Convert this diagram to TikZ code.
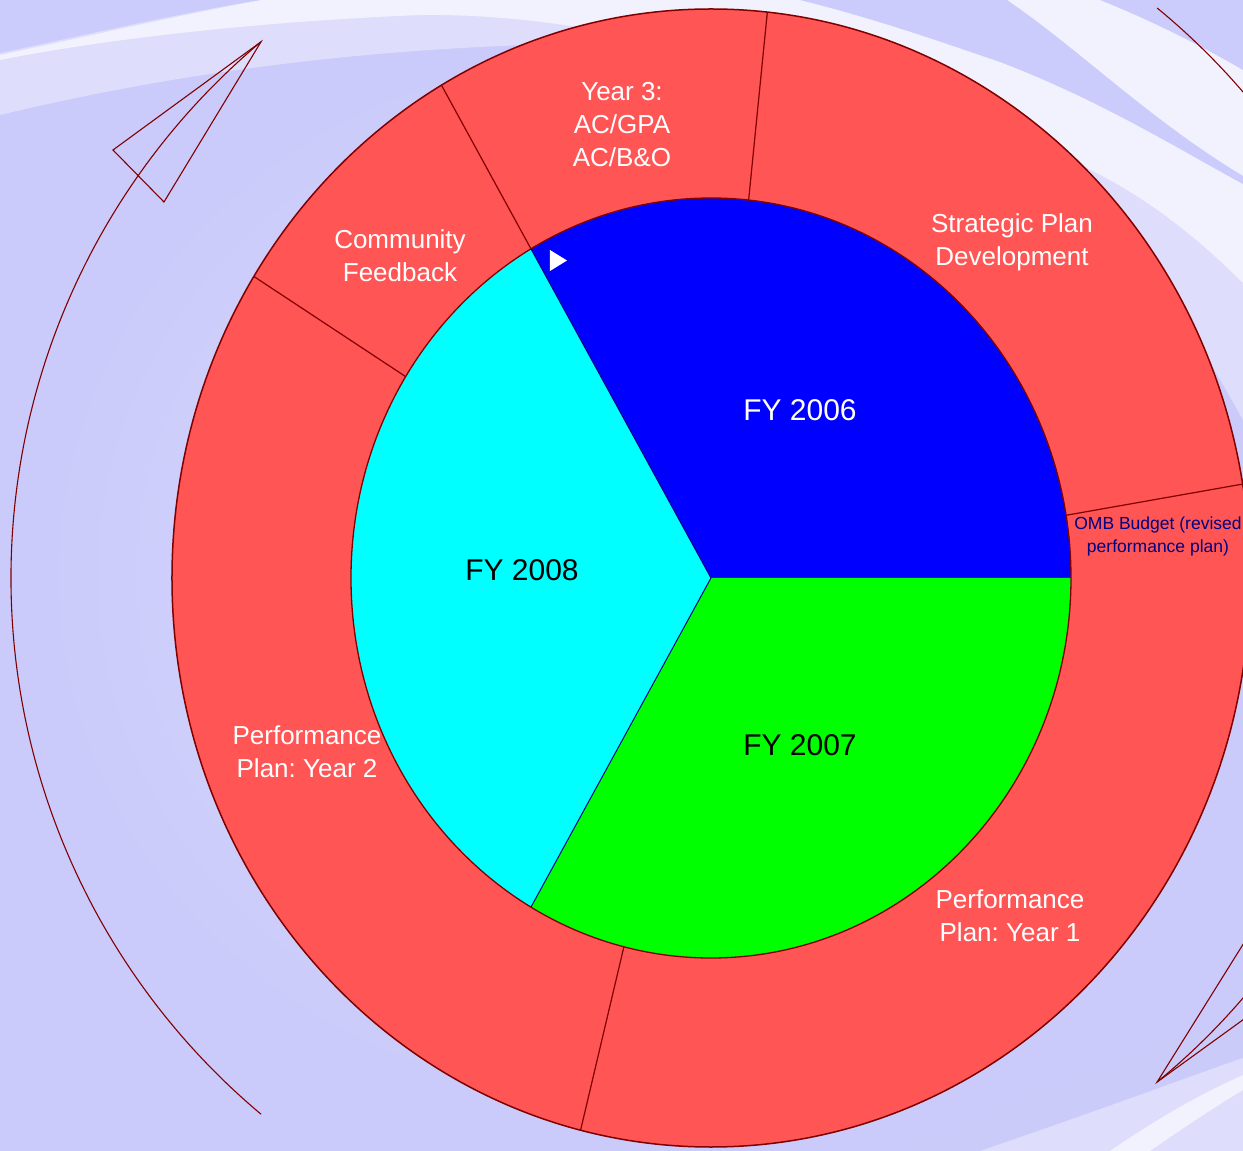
\documentclass[tikz,border=0pt]{standalone}
\usepackage{fontspec}
\setmainfont{Liberation Sans}
\frenchspacing
\definecolor{ringred}{RGB}{255,85,85}
\definecolor{dred}{RGB}{128,0,0}
\definecolor{bgA}{RGB}{218,218,253}
\definecolor{bgB}{RGB}{202,202,251}
\definecolor{bgLight}{RGB}{222,222,252}
\definecolor{bgWhite}{RGB}{242,242,254}
\definecolor{bgLav}{RGB}{204,204,252}
\definecolor{bgDark}{RGB}{203,203,250}
\definecolor{navyc}{RGB}{0,0,128}
\definecolor{pblue}{RGB}{0,0,255}
\definecolor{pcyan}{RGB}{0,255,255}
\definecolor{pgreen}{RGB}{0,255,0}
\tikzset{
  ringlbl/.style={text=white, font=\fontsize{26}{33}\selectfont, align=center, inner sep=0pt},
  fylbl/.style={font=\fontsize{30}{36}\selectfont, inner sep=0pt},
  seg/.style={draw=dred, line width=1.2pt},
  cyclearc/.style={draw=dred, line width=1.1pt},
  arrowhd/.style={draw=dred, line width=1.1pt, line join=miter}
}
\begin{document}
\begin{tikzpicture}[x=1pt,y=1pt]
\useasboundingbox (-711,-573) rectangle (532,578);
\clip (-711,-573) rectangle (532,578);
\shade[inner color=bgA, outer color=bgB] (-711,-573) rectangle (532,578);
% background swooshes, image coordinates
\begin{scope}[shift={(-711,578)}, yscale=-1]
  \fill[bgLight] (0,115) .. controls (250,55) and (500,35) .. (800,45) .. controls (1000,60) and (1150,250) .. (1243,420) -- (1243,0) -- (0,0) -- cycle;
  \fill[bgWhite] (0,55) .. controls (80,38) and (180,15) .. (262,0) -- (1243,0) -- (1243,283) .. controls (1180,220) and (1100,160) .. (1000,138) .. controls (880,110) and (650,12) .. (420,15) .. controls (250,22) and (100,40) .. (0,60) -- cycle;
  \fill[bgLav] (0,0) -- (0,53) .. controls (80,36) and (180,13) .. (260,0) -- cycle;
  \fill[bgLav] (800,0) .. controls (880,20) and (950,45) .. (1000,62) .. controls (1100,100) and (1180,150) .. (1243,184) -- (1243,176) .. controls (1150,120) and (1080,50) .. (1007,0) -- cycle;
  \fill[bgLav] (1100,0) .. controls (1150,20) and (1200,45) .. (1243,70) -- (1243,0) -- cycle;
  \fill[bgDark] (900,1151) .. controls (1020,1100) and (1150,1050) .. (1243,1015) -- (1243,1151) -- cycle;
  \fill[bgLight] (980,1151) .. controls (1100,1110) and (1180,1080) .. (1243,1058) -- (1243,1151) -- cycle;
  \fill[bgWhite] (1110,1151) .. controls (1170,1110) and (1210,1090) .. (1243,1075) -- (1243,1090) .. controls (1210,1110) and (1180,1130) .. (1150,1151) -- cycle;
\end{scope}
% outer ring
\fill[ringred] (0,0) ellipse [x radius=539, y radius=569];
\foreach \a in {9.5,84,120,148,256} \draw[seg] (\a:360 and 380) -- (\a:539 and 569);
\draw[dred, line width=1.5pt] (0,0) ellipse [x radius=539, y radius=569];
% pie
\coordinate (c) at (0,0);
\fill[pblue] (c) -- (0:360 and 380) arc[start angle=0, end angle=120, x radius=360, y radius=380] -- cycle;
\fill[pcyan] (c) -- (120:360 and 380) arc[start angle=120, end angle=240, x radius=360, y radius=380] -- cycle;
\fill[pgreen] (c) -- (240:360 and 380) arc[start angle=240, end angle=360, x radius=360, y radius=380] -- cycle;
\draw[navyc, line width=1pt] (c) -- (120:360 and 380);
\draw[navyc, line width=1pt] (c) -- (240:360 and 380);
\draw[dred, line width=1.3pt] (c) ellipse [x radius=360, y radius=380];
\fill[white] (-161,328) -- (-161,307) -- (-144,317.5) -- cycle;
% cycle arcs
\coordinate (tipL) at (130:700);
\coordinate (tailL) at (230:700);
\draw[cyclearc] (tailL) arc[start angle=230, end angle=130, radius=700];
\draw[arrowhd] (tipL) -- (-598,428) -- (-547,376) -- cycle;
\coordinate (tailR) at ([shift={(5,33)}]50.6:695);
\coordinate (tipR) at ([shift={(5,33)}]-50.6:695);
\draw[cyclearc] (tailR) arc[start angle=50.6, end angle=-50.6, radius=695];
\draw[arrowhd] (tipR) -- (598,-394) -- (546,-344) -- cycle;
% labels
\node[ringlbl] (yr3) at (-89,453) {Year 3:\\AC/GPA\\AC/B\&O};
\node[ringlbl] (comm) at (-311,322.5) {Community\\Feedback};
\node[ringlbl] (strat) at (301,335.5) {Strategic Plan\\Development};
\node[ringlbl] (pp2) at (-404,-173.5) {Performance\\Plan: Year 2};
\node[ringlbl] (pp1) at (299,-338) {Performance\\Plan: Year 1};
\node[fylbl, text=white] (fy6) at (89,168) {FY 2006};
\node[fylbl, text=black] (fy8) at (-189,8) {FY 2008};
\node[fylbl, text=black] (fy7) at (89,-167) {FY 2007};
\node[text=navyc, font=\fontsize{17.5}{23}\selectfont, align=center, inner sep=0pt] (omb) at (447,41.5) {OMB Budget (revised\\performance plan)};
\end{tikzpicture}
\end{document}
